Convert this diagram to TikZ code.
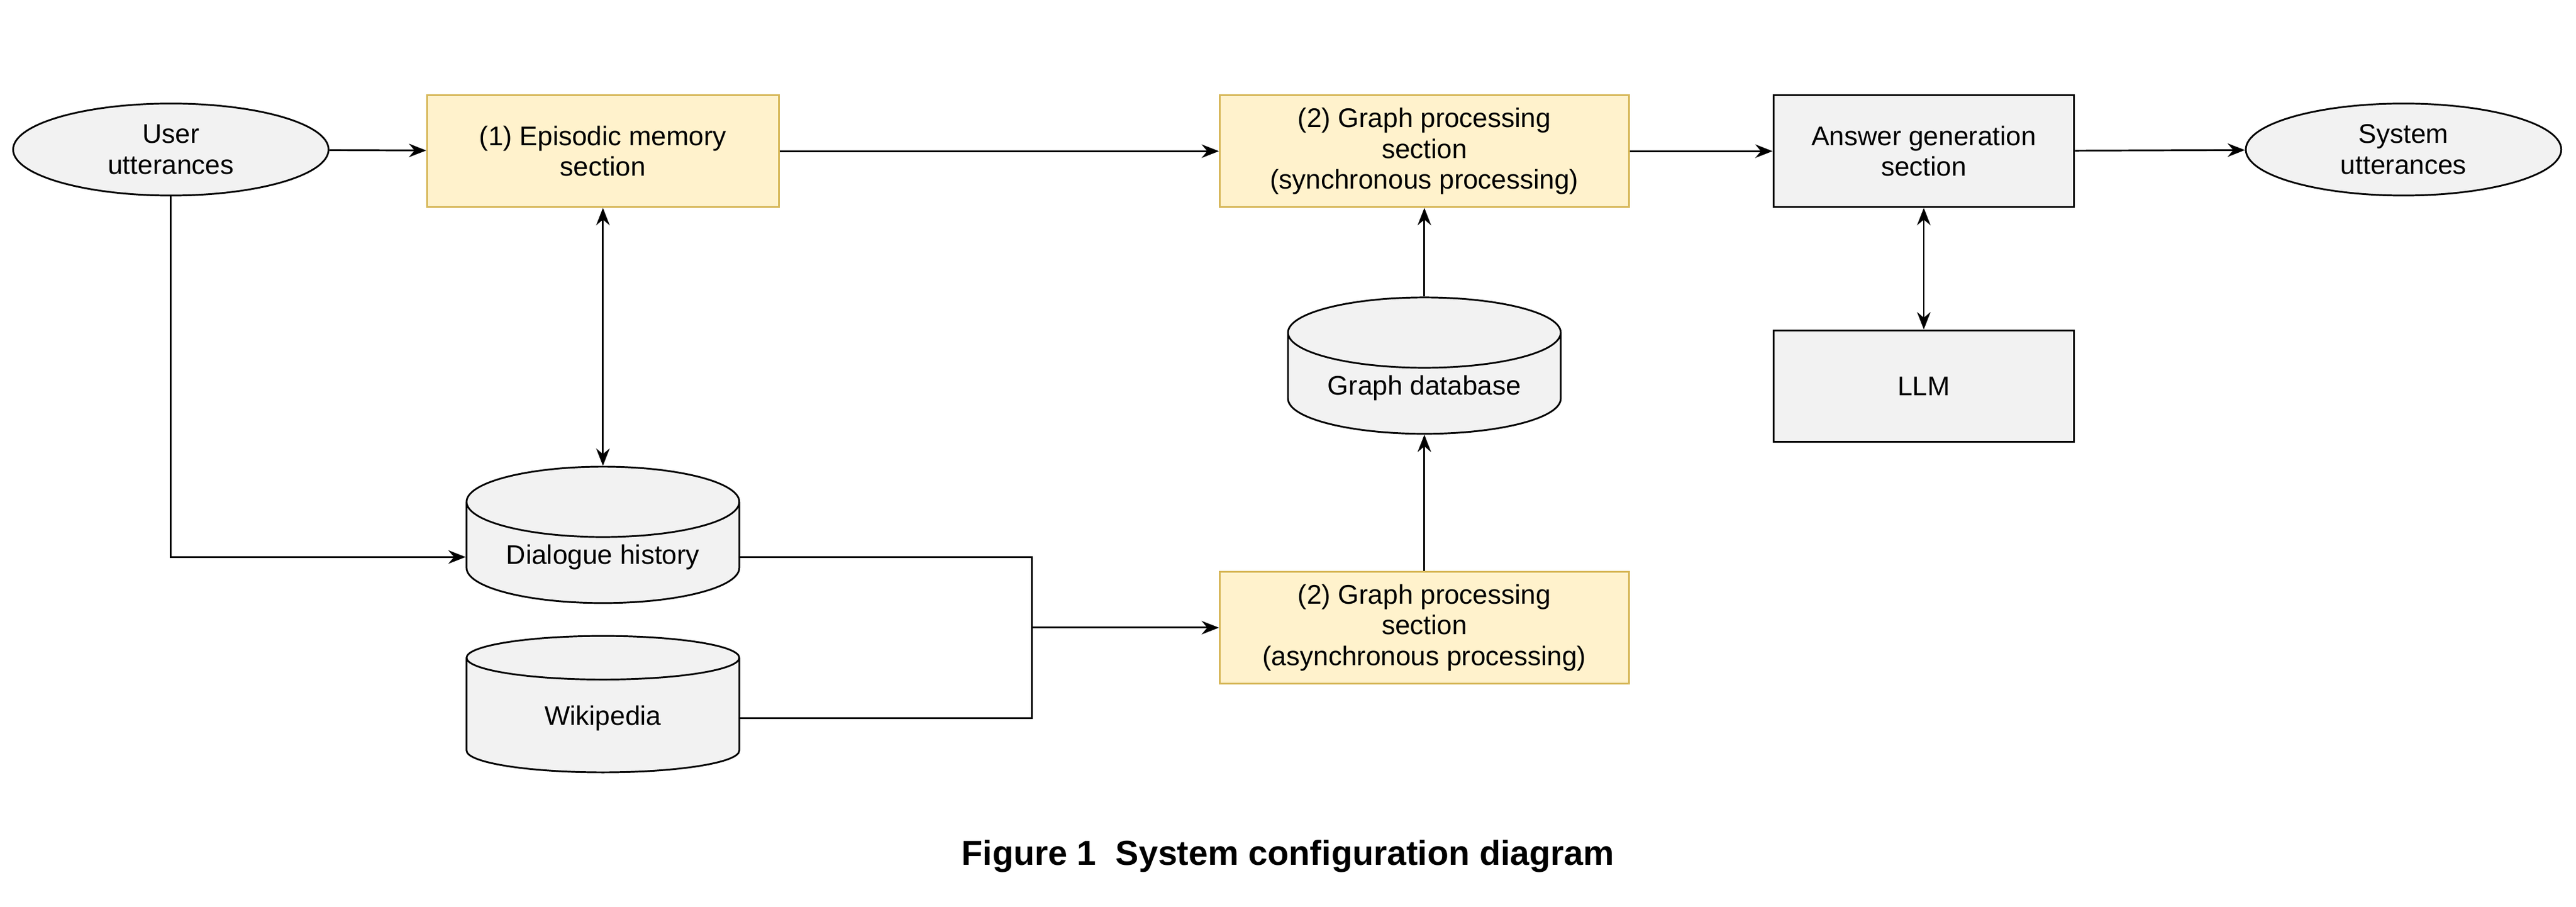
\documentclass[tikz,border=0pt]{standalone}
\usepackage{fontspec}
\setmainfont{Liberation Sans}
\usetikzlibrary{shapes.geometric,arrows.meta}
\definecolor{boxfill}{HTML}{FFF2CC}
\definecolor{boxline}{HTML}{D6B656}
\definecolor{grayfill}{HTML}{F2F2F2}
\begin{document}
\begin{tikzpicture}[x=0.03cm,y=-0.03cm,font=\fontsize{14}{16}\selectfont,>={Stealth[length=9pt,width=7pt]}]
				\tikzstyle{every node}=[align=center,inner sep=2pt]
				\tikzstyle{section}=[draw=boxline,fill=boxfill,line width=0.9pt,minimum width=7.47cm,minimum height=2.04cm]
				\tikzstyle{plain}=[draw,fill=grayfill,line width=0.9pt,minimum width=5.49cm,minimum height=2.04cm]
				\tikzstyle{endpoint}=[draw,fill=grayfill,ellipse,line width=0.9pt,minimum width=5.76cm,minimum height=1.68cm]
				\tikzstyle{store}=[draw,fill=grayfill,cylinder,shape border rotate=90,aspect=0.35,line width=0.9pt,minimum width=4.98cm,minimum height=2.49cm]
				\tikzstyle{link}=[->,line width=0.9pt]
				\useasboundingbox (0,0) rectangle (1568,552);
				% top row
				\node[endpoint] (user) at (104,91) {User\\utterances};
				\node[section,minimum width=6.42cm] (episodic) at (367,92) {(1) Episodic memory\\section};
				\node[section] (sync) at (867,92) {(2) Graph processing\\section\\(synchronous processing)};
				\node[plain] (answer) at (1171,92) {Answer generation\\section};
				\node[endpoint] (system) at (1463,91) {System\\utterances};
				% stores and lower row
				\node[plain] (llm) at (1171,235) {LLM};
				\node[store] (graphdb) at (867,236) {Graph database};
				\node[store] (history) at (367,339) {Dialogue history};
				\node[store] (wiki) at (367,437) {Wikipedia};
				\node[section] (async) at (867,382) {(2) Graph processing\\section\\(asynchronous processing)};
				\coordinate (join) at (628,382);
				% connectors
				\draw[link] (user) -- (episodic);
				\draw[link] (episodic) -- (sync);
				\draw[link] (sync) -- (answer);
				\draw[link] (answer) -- (system);
				\draw[link,<->] (answer) -- (llm);
				\draw[link,<->] (episodic) -- (history);
				\draw[link] (graphdb) -- (sync);
				\draw[link] (async) -- (graphdb);
				\draw[link] (user.south) |- (history.west);
				\draw[line width=0.9pt] (history.east) -| (join) |- (wiki.east);
				\draw[link] (join) -- (async);
				\node[font=\fontsize{18}{20}\selectfont\bfseries] (caption) at (784,521) {Figure 1\ \ System configuration diagram};
\end{tikzpicture}
\end{document}
